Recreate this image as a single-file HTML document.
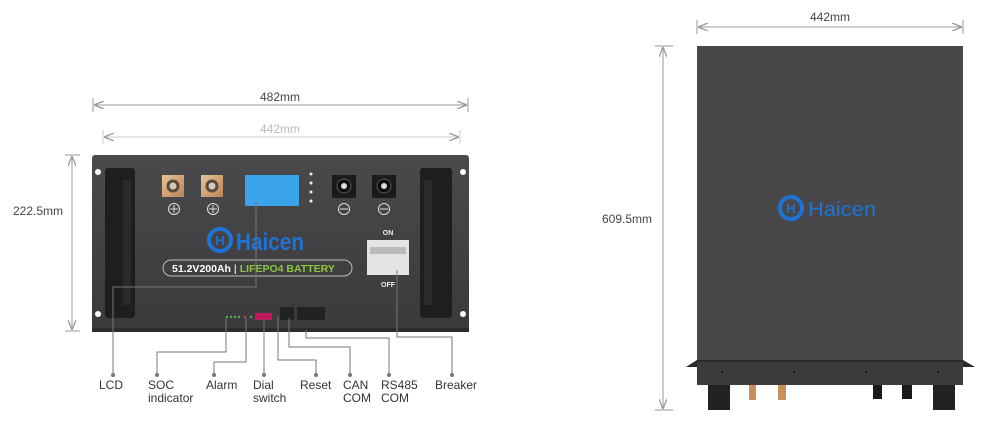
<!DOCTYPE html>
<html><head><meta charset="utf-8"><style>
html,body{margin:0;padding:0;background:#fff;width:993px;height:425px;overflow:hidden}
svg{display:block}
text{font-family:"Liberation Sans",sans-serif}
</style></head><body>
<svg width="993" height="425" viewBox="0 0 993 425" xmlns="http://www.w3.org/2000/svg">
<defs>
<linearGradient id="pg" x1="0" y1="0" x2="0" y2="1"><stop offset="0" stop-color="#4a4a4c"/><stop offset="1" stop-color="#3a3a3c"/></linearGradient>
<linearGradient id="cu" x1="0" y1="0" x2="1" y2="1"><stop offset="0" stop-color="#e8c39a"/><stop offset="1" stop-color="#b98454"/></linearGradient>
<marker id="ar" markerWidth="10" markerHeight="8" refX="10" refY="4" orient="auto-start-reverse" markerUnits="userSpaceOnUse"><path d="M0,0 L10,4 L0,8" fill="none" stroke="#9a9a9a" stroke-width="1.3"/></marker>
</defs>

<!-- dimensions left -->
<g stroke="#999" stroke-width="1" fill="none">
<line x1="93" y1="98" x2="93" y2="112"/><line x1="468" y1="98" x2="468" y2="112"/>
<line x1="94" y1="105" x2="467" y2="105" marker-start="url(#ar)" marker-end="url(#ar)"/>
<g stroke="#ccc"><line x1="103" y1="130" x2="103" y2="144"/><line x1="460" y1="130" x2="460" y2="144"/>
<line x1="104" y1="137" x2="459" y2="137" marker-start="url(#ar)" marker-end="url(#ar)"/></g>
<line x1="65" y1="155" x2="80" y2="155"/><line x1="65" y1="331" x2="80" y2="331"/>
<line x1="72" y1="156" x2="72" y2="330" marker-start="url(#ar)" marker-end="url(#ar)"/>
</g>
<text x="280" y="101" font-size="12" fill="#444" text-anchor="middle">482mm</text>
<text x="280" y="133" font-size="12" fill="#bbb" text-anchor="middle">442mm</text>
<text x="38" y="215" font-size="12" fill="#444" text-anchor="middle">222.5mm</text>

<!-- front panel -->
<rect x="92" y="155" width="377" height="177" rx="3" fill="url(#pg)"/>
<rect x="92" y="328" width="377" height="4" fill="#2c2c2e"/>
<circle cx="98" cy="172" r="3" fill="#fff"/><circle cx="98" cy="314" r="3" fill="#fff"/>
<circle cx="463" cy="172" r="3" fill="#fff"/><circle cx="463" cy="314" r="3" fill="#fff"/>
<rect x="105" y="168" width="30" height="150" rx="3" fill="#1e1e1f"/>
<rect x="420" y="168" width="32" height="150" rx="3" fill="#1e1e1f"/>
<rect x="123" y="180" width="8" height="125" fill="#2a2a2b"/><rect x="424" y="180" width="8" height="125" fill="#2a2a2b"/>
<g><rect x="162" y="175" width="22" height="22" fill="url(#cu)"/><circle cx="173" cy="186" r="6.5" fill="#5a4a3a"/><circle cx="173" cy="186" r="3.5" fill="#cfc9c0"/></g>
<g><rect x="201" y="175" width="22" height="22" fill="url(#cu)"/><circle cx="212" cy="186" r="6.5" fill="#5a4a3a"/><circle cx="212" cy="186" r="3.5" fill="#cfc9c0"/></g>
<g><rect x="332" y="175" width="24" height="23" fill="#1a1a1a"/><circle cx="344" cy="186" r="7" fill="#0c0c0c" stroke="#555"/><circle cx="344" cy="186" r="3" fill="#ddd"/></g>
<g><rect x="372" y="175" width="24" height="23" fill="#1a1a1a"/><circle cx="384" cy="186" r="7" fill="#0c0c0c" stroke="#555"/><circle cx="384" cy="186" r="3" fill="#ddd"/></g>
<g stroke="#ddd" stroke-width="1" fill="none">
<circle cx="174" cy="209" r="5.5"/><path d="M170,209h8M174,205v8"/>
<circle cx="213" cy="209" r="5.5"/><path d="M209,209h8M213,205v8"/>
<circle cx="344" cy="209" r="5.5"/><path d="M340,209h8"/>
<circle cx="384" cy="209" r="5.5"/><path d="M380,209h8"/>
</g>
<rect x="245" y="175" width="54" height="31" fill="#3ba3ea"/>
<g fill="#eee"><circle cx="311" cy="174" r="1.5"/><circle cx="311" cy="183" r="1.5"/><circle cx="311" cy="192" r="1.5"/><circle cx="311" cy="201" r="1.5"/></g>
<circle cx="220" cy="240" r="11" fill="none" stroke="#1f72d6" stroke-width="4"/>
<text x="220" y="245" font-size="13" font-weight="bold" fill="#1f72d6" text-anchor="middle">H</text>
<text x="236" y="250" font-size="24" font-weight="bold" fill="#1f72d6" textLength="68" lengthAdjust="spacingAndGlyphs">Haicen</text>
<rect x="163" y="260" width="189" height="16" rx="8" fill="none" stroke="#bbb" stroke-width="1"/>
<text x="172" y="272" font-size="10.5" font-weight="bold" fill="#fff">51.2V200Ah <tspan fill="#ccc">|</tspan> <tspan fill="#8cc63f">LIFEPO4 BATTERY</tspan></text>
<text x="388" y="235" font-size="7" font-weight="bold" fill="#eee" text-anchor="middle">ON</text>
<rect x="367" y="240" width="42" height="35" fill="#e4e4e6"/>
<rect x="370" y="247" width="36" height="7" fill="#bbb"/>
<text x="388" y="287" font-size="7" font-weight="bold" fill="#eee" text-anchor="middle">OFF</text>
<g fill="#4caf50"><circle cx="227" cy="317" r="1.2"/><circle cx="231" cy="317" r="1.2"/><circle cx="235" cy="317" r="1.2"/><circle cx="239" cy="317" r="1.2"/><circle cx="251" cy="317" r="1.2"/></g>
<circle cx="245" cy="317" r="1.2" fill="#e53935"/>
<rect x="255" y="313" width="17" height="7" fill="#c2185b"/>
<rect x="280" y="307" width="14" height="13" fill="#222"/>
<rect x="297" y="307" width="14" height="13" fill="#222"/><rect x="311" y="307" width="14" height="13" fill="#222"/>

<g stroke="#777" stroke-width="1" fill="none">
<path d="M256,202V287H113V375"/>
<path d="M397,270V337H452V375"/>
<path d="M226,318V352H157V375"/>
<path d="M246,318V362H214V375"/>
<path d="M264,318V375"/>
<path d="M278,316V360H316V375"/>
<path d="M289,318V347H350V375"/>
<path d="M306,330V338H389V375"/>
</g>
<g fill="#777"><circle cx="113" cy="375" r="2"/><circle cx="157" cy="375" r="2"/><circle cx="214" cy="375" r="2"/><circle cx="264" cy="375" r="2"/><circle cx="316" cy="375" r="2"/><circle cx="350" cy="375" r="2"/><circle cx="389" cy="375" r="2"/><circle cx="452" cy="375" r="2"/></g>
<g font-size="12" fill="#333">
<text x="99" y="389">LCD</text>
<text x="148" y="389">SOC</text><text x="148" y="402">indicator</text>
<text x="206" y="389">Alarm</text>
<text x="253" y="389">Dial</text><text x="253" y="402">switch</text>
<text x="300" y="389">Reset</text>
<text x="343" y="389">CAN</text><text x="343" y="402">COM</text>
<text x="381" y="389">RS485</text><text x="381" y="402">COM</text>
<text x="435" y="389">Breaker</text>
</g>

<!-- right view -->
<g stroke="#999" stroke-width="1" fill="none">
<line x1="697" y1="20" x2="697" y2="34"/><line x1="963" y1="20" x2="963" y2="34"/>
<line x1="698" y1="27" x2="962" y2="27" marker-start="url(#ar)" marker-end="url(#ar)"/>
<line x1="655" y1="46" x2="673" y2="46"/><line x1="655" y1="410" x2="673" y2="410"/>
<line x1="663" y1="47" x2="663" y2="409" marker-start="url(#ar)" marker-end="url(#ar)"/>
</g>
<text x="830" y="21" font-size="12" fill="#444" text-anchor="middle">442mm</text>
<text x="627" y="223" font-size="12" fill="#444" text-anchor="middle">609.5mm</text>
<rect x="697" y="46" width="266" height="316" fill="#48484a"/>
<polygon points="686,367 697,360 963,360 975,367" fill="#2a2a2a"/>
<rect x="697" y="362" width="266" height="23" fill="#3c3c3e"/>
<g fill="#111"><circle cx="722" cy="372" r="1"/><circle cx="794" cy="372" r="1"/><circle cx="866" cy="372" r="1"/><circle cx="938" cy="372" r="1"/></g>
<polygon points="708,385 730,385 730,410 708,410" fill="#222"/>
<polygon points="933,385 955,385 955,410 933,410" fill="#222"/>
<rect x="749" y="385" width="7" height="15" fill="#c8905a"/><rect x="778" y="385" width="8" height="15" fill="#c8905a"/>
<rect x="873" y="385" width="9" height="14" fill="#1a1a1a"/><rect x="902" y="385" width="10" height="14" fill="#1a1a1a"/>
<circle cx="791" cy="208" r="11" fill="none" stroke="#1f72d6" stroke-width="4"/>
<text x="791" y="213" font-size="13" font-weight="bold" fill="#1f72d6" text-anchor="middle">H</text>
<text x="808" y="216" font-size="20" fill="#1f72d6" textLength="68" lengthAdjust="spacingAndGlyphs">Haicen</text>
</svg>
</body></html>
